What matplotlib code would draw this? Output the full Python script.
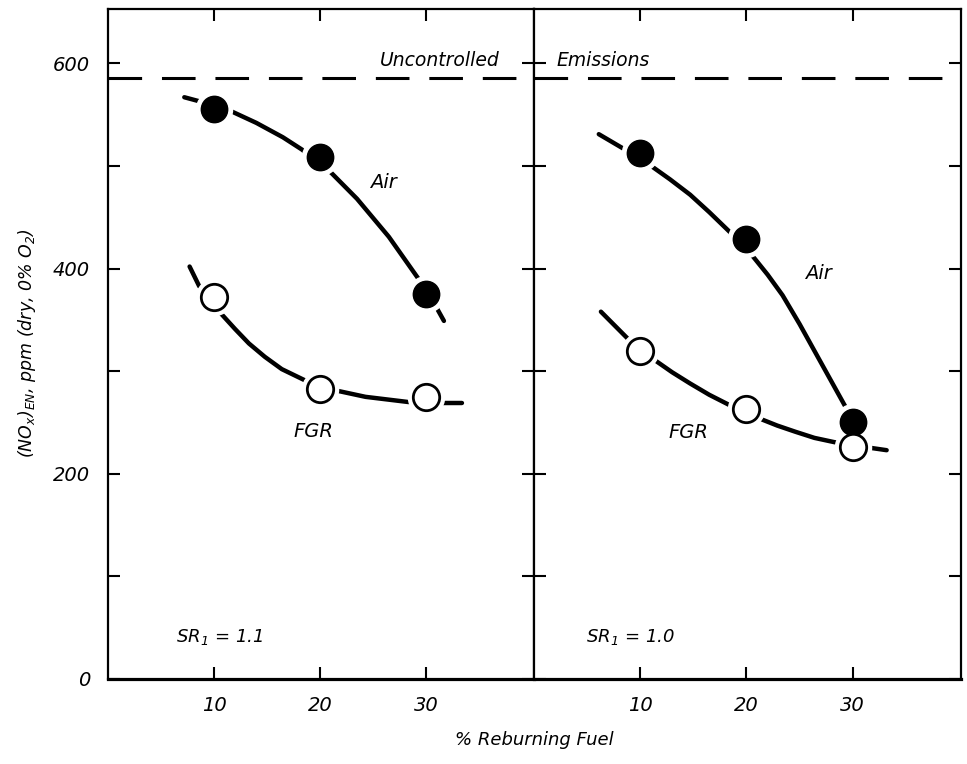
import matplotlib
matplotlib.use("Agg")
from matplotlib import pyplot as plt

plt.rcParams['font.family'] = ['DejaVu Sans']
plt.rcParams['font.style'] = 'italic'
plt.rcParams['mathtext.fontset'] = 'custom'
plt.rcParams['mathtext.rm'] = 'DejaVu Sans:italic'
plt.rcParams['mathtext.it'] = 'DejaVu Sans:italic'

# measured points (% reburning fuel vs NOx)
pct = [10, 20, 30]
air_sr11 = [556, 509, 375]
fgr_sr11 = [372, 283, 275]
air_sr10 = [513, 429, 250]
fgr_sr10 = [320, 263, 226]
uncontrolled = 586

# hand drawn fit curves
air_fit11_x = [7.2, 9, 11.7, 14, 16.5, 18.3, 21.1, 23.5, 26.5, 29.3, 31.0, 31.7]
air_fit11_y = [567, 562, 553, 542, 528, 516, 493, 468, 431, 390, 362, 349]
fgr_fit11_x = [7.7, 8.6, 10.5, 12, 13.3, 14.8, 16.4, 18.8, 21.6, 24.3, 28.3, 31.5, 33.4]
fgr_fit11_y = [402, 383, 358, 341, 327, 314, 302, 290, 281, 275, 270, 269, 269]
air_fit10_x = [6.1, 8.4, 10.9, 12.8, 14.7, 16.5, 18.4, 20.6, 22, 23.4, 25, 26.5, 28, 29.5]
air_fit10_y = [531, 517, 501, 487, 472, 455, 436, 412, 394, 374, 346, 318, 290, 262]
fgr_fit10_x = [6.3, 8.8, 11.2, 13, 14.7, 16.5, 18.4, 19.8, 21.2, 22.9, 24.6, 26.4, 28.2,
               29.7, 31.2, 33.2]
fgr_fit10_y = [358, 332, 312, 299, 288, 277, 267, 260, 254, 247, 241, 235, 231, 228,
               226, 223]

xticks = [10, 20, 30]
yticks = [100, 200, 300, 400, 500, 600]
ylabels = {0: '0', 200: '200', 400: '400', 600: '600'}


def draw_panel(ax, air, fgr, air_fx, air_fy, fgr_fx, fgr_fy):
    ax.plot(air_fx, air_fy, color='black', lw=3.2, solid_capstyle='round',
            solid_joinstyle='round')
    ax.plot(fgr_fx, fgr_fy, color='black', lw=3.2, solid_capstyle='round',
            solid_joinstyle='round')
    # white rings give the little gaps where the line meets a point
    ax.plot(pct, air, 'o', ms=26, color='white', zorder=3)
    ax.plot(pct, fgr, 'o', ms=26, color='white', zorder=3)
    ax.plot(pct, air, 'o', ms=19, color='black', zorder=4)
    ax.plot(pct, fgr, 'o', ms=19, mfc='white', mec='black', mew=2.0, zorder=5)
    ax.axhline(uncontrolled, color='black', lw=2.2, dashes=(11, 6.5))
    ax.set_xlim(0, 40.2)
    ax.set_ylim(0, 653)
    ax.set_xticks(xticks)
    ax.set_xticklabels([str(t) for t in xticks], fontsize=14)
    ax.set_yticks([0] + yticks)
    ax.tick_params(direction='in', length=8.5, width=1.5, top=True, right=True,
                   left=True, bottom=True)
    ax.tick_params(axis='x', pad=12)
    ax.tick_params(axis='y', pad=13)
    for s in ax.spines.values():
        s.set_linewidth(1.6)
    ax.spines['bottom'].set_linewidth(2.3)


fig = plt.figure(figsize=(9.67, 7.64), dpi=100)
ax1 = fig.add_axes([108 / 967, 85 / 764, 426 / 967, 670 / 764])
ax2 = fig.add_axes([534 / 967, 85 / 764, 427 / 967, 670 / 764])

draw_panel(ax1, air_sr11, fgr_sr11, air_fit11_x, air_fit11_y, fgr_fit11_x, fgr_fit11_y)
draw_panel(ax2, air_sr10, fgr_sr10, air_fit10_x, air_fit10_y, fgr_fit10_x, fgr_fit10_y)

ax1.set_yticklabels([ylabels.get(t, '') for t in [0] + yticks], fontsize=14)
ax2.set_yticklabels([])

ax1.text(37.0, 603, 'Uncontrolled', ha='right', va='center', fontsize=13.5)
ax2.text(2.1, 603, 'Emissions', ha='left', va='center', fontsize=13.5)

ax1.text(26, 484, 'Air', ha='center', va='center', fontsize=14)
ax2.text(26.8, 395, 'Air', ha='center', va='center', fontsize=14)
ax1.text(19.4, 241, 'FGR', ha='center', va='center', fontsize=14)
ax2.text(14.5, 240, 'FGR', ha='center', va='center', fontsize=14)

ax1.text(6.4, 41, r'SR$_1$ = 1.1', ha='left', va='center', fontsize=13)
ax2.text(4.9, 41, r'SR$_1$ = 1.0', ha='left', va='center', fontsize=13)

fig.text(27 / 967, 1 - 343 / 764, r'(NO$_x$)$_{EN}$, ppm (dry, 0% O$_2$)',
         rotation=90, ha='center', va='center', fontsize=12.5)
fig.text(534 / 967, 1 - 740 / 764, '% Reburning Fuel', ha='center', va='center',
         fontsize=13)

fig.savefig('out.png', dpi=100)
